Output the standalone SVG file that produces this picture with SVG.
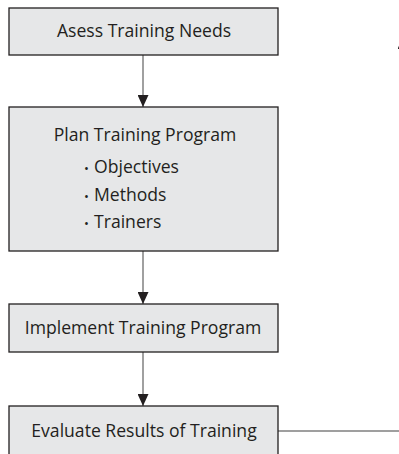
<svg xmlns="http://www.w3.org/2000/svg" width="399" height="454" viewBox="0 0 399 454">
<style>
.box{fill:#e6e7e8;stroke:#231f20;stroke-width:1.3}
.t{font-family:"Open Sans","Liberation Sans",Arial,sans-serif;font-size:17.6px;fill:#231f20}
.c{text-anchor:middle}
.b{font-size:13px}
.ln{fill:none;stroke:#808080;stroke-width:1.5}
</style>
<defs>
<marker id="ah" viewBox="0 0 12 11" refX="12" refY="5.5" markerWidth="12" markerHeight="11" markerUnits="userSpaceOnUse" orient="auto">
<path d="M0,0 L12,5.5 L0,11 Z" fill="#231f20"/>
</marker>
</defs>
<rect width="399" height="454" fill="#fff"/>
<g id="connectors">
<line class="ln" x1="143" y1="55" x2="143" y2="107" marker-end="url(#ah)"/>
<line class="ln" x1="143" y1="251" x2="143" y2="304" marker-end="url(#ah)"/>
<line class="ln" x1="143" y1="352" x2="143" y2="406" marker-end="url(#ah)"/>
<path class="ln" d="M278,431 H403 V37" marker-end="url(#ah)"/>
</g>
<g id="assess">
<rect class="box" x="9" y="8" width="269" height="47"/>
<text class="t c" x="144" y="37">Asess Training Needs</text>
</g>
<g id="plan">
<rect class="box" x="9" y="107" width="269" height="144"/>
<text class="t c" x="145" y="141">Plan Training Program</text>
<text class="t" x="84" y="173"><tspan class="b">•</tspan><tspan x="94">Objectives</tspan></text>
<text class="t" x="84" y="201"><tspan class="b">•</tspan><tspan x="94">Methods</tspan></text>
<text class="t" x="84" y="228"><tspan class="b">•</tspan><tspan x="94">Trainers</tspan></text>
</g>
<g id="implement">
<rect class="box" x="9" y="304" width="269" height="48"/>
<text class="t c" x="143" y="334">Implement Training Program</text>
</g>
<g id="evaluate">
<rect class="box" x="9" y="406" width="269" height="60"/>
<text class="t c" x="144" y="437">Evaluate Results of Training</text>
</g>
</svg>
